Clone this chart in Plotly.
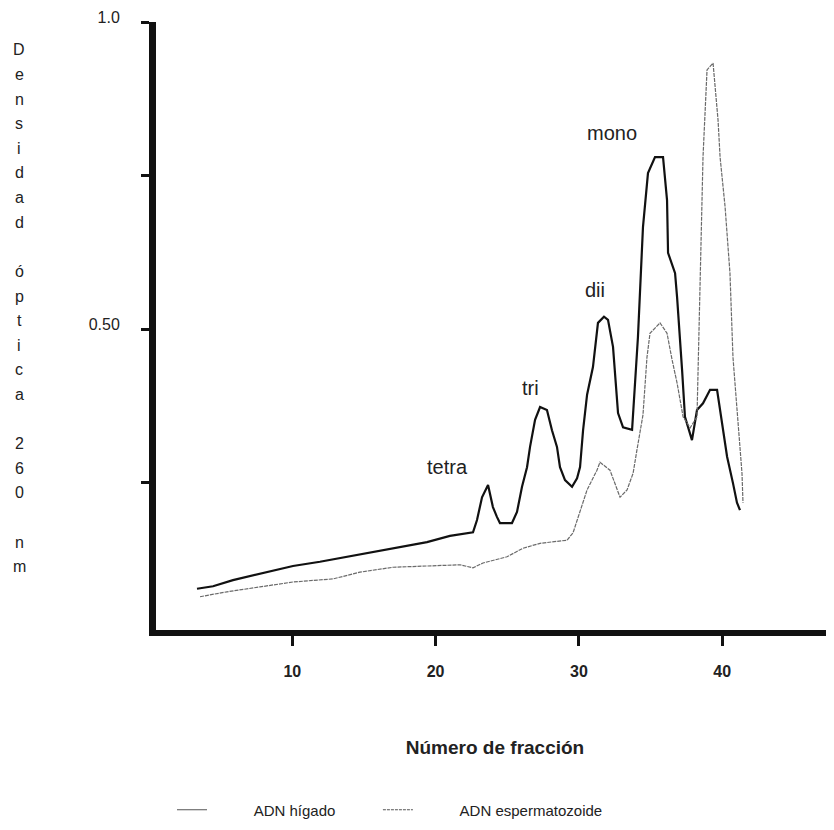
import plotly.graph_objects as go

# ---- data (fraction number vs optical density 260 nm) ----
higado_x = [3.35, 4.47, 5.86, 7.26, 8.65, 10.05, 11.93, 13.82, 15.63, 17.52, 19.40, 21.0,
            22.61, 22.89, 23.24, 23.66, 24.0, 24.28, 24.49, 25.33, 25.68, 26.03, 26.38, 26.59,
            26.94, 27.29, 27.77, 28.12, 28.47, 28.68, 29.03, 29.52, 29.87, 30.08, 30.29, 30.57,
            30.98, 31.33, 31.75, 32.03, 32.38, 32.73, 33.08, 33.71, 34.12, 34.47, 34.82, 35.31,
            35.87, 36.15, 36.22, 36.71, 36.85, 37.2, 37.4, 37.89, 38.24, 38.66, 39.15, 39.64,
            39.99, 40.34, 40.75, 41.03, 41.24]
higado_y = [0.077, 0.081, 0.091, 0.099, 0.107, 0.114, 0.121, 0.129, 0.137, 0.145, 0.153, 0.163,
            0.169, 0.189, 0.226, 0.246, 0.210, 0.194, 0.184, 0.184, 0.202, 0.243, 0.275, 0.308,
            0.352, 0.373, 0.368, 0.335, 0.308, 0.275, 0.254, 0.243, 0.257, 0.275, 0.335, 0.393,
            0.438, 0.510, 0.520, 0.515, 0.471, 0.363, 0.340, 0.336, 0.487, 0.666, 0.754, 0.780,
            0.780, 0.710, 0.624, 0.591, 0.552, 0.433, 0.357, 0.319, 0.368, 0.379, 0.401, 0.401,
            0.347, 0.292, 0.249, 0.217, 0.205]

esperma_x = [3.56, 5.44, 7.75, 10.05, 12.84, 14.72, 17.03, 19.40, 21.70, 22.61, 23.31, 24.98,
             26.1, 27.29, 29.17, 29.59, 29.87, 30.29, 30.57, 31.26, 31.47, 32.17, 32.52, 32.87,
             33.36, 33.78, 34.05, 34.47, 34.75, 34.96, 35.66, 36.15, 36.5, 36.85, 37.27, 37.76,
             38.24, 38.45, 38.66, 38.94, 39.36, 39.71, 39.85, 40.2, 40.54, 40.75, 41.03, 41.38,
             41.45]
esperma_y = [0.064, 0.072, 0.080, 0.088, 0.093, 0.104, 0.112, 0.114, 0.116, 0.111, 0.119, 0.129,
             0.143, 0.151, 0.156, 0.168, 0.189, 0.217, 0.238, 0.270, 0.283, 0.270, 0.249, 0.226,
             0.238, 0.265, 0.303, 0.360, 0.454, 0.493, 0.510, 0.493, 0.450, 0.412, 0.357, 0.339,
             0.357, 0.547, 0.780, 0.922, 0.933, 0.840, 0.780, 0.699, 0.591, 0.454, 0.373, 0.265,
             0.217]

peak_labels = ["tetra", "tri", "dii", "mono"]
peak_label_x = [20.8, 26.6, 31.1, 32.3]
peak_label_y = [0.275, 0.404, 0.563, 0.819]

x_tickvals = [10, 20, 30, 40]
x_ticktext = ["10", "20", "30", "40"]
y_tickvals = [0.25, 0.5, 0.75, 1.0]
y_ticktext = ["", "0.50", "", "1.0"]

y_title = "Densidad óptica 260 nm"
x_title = "Número de fracción"
series_names = ["ADN hígado", "ADN espermatozoide"]

FONT = "Liberation Sans, Arial, sans-serif"
OFF = 8                      # default page (body) margin of the html page
W, H = 834 - OFF, 830 - OFF
ML, MR, MT, MB = 148, 0, 14, 200
plot_w = W - ML - MR
plot_h = H - MT - MB
PL, PB = ML + OFF, H - MB + OFF          # plot left / bottom in page pixels

fig = go.Figure()
fig.add_trace(go.Scatter(x=higado_x, y=higado_y, mode="lines",
                         line=dict(color="#111111", width=2.2),
                         showlegend=False, hoverinfo="skip"))
fig.add_trace(go.Scatter(x=esperma_x, y=esperma_y, mode="lines",
                         line=dict(color="#6a6a6a", width=1.2, dash="4px,1px"),
                         showlegend=False, hoverinfo="skip"))
# legend entries (thin samples like the reference)
nb = "\u00a0"
fig.add_trace(go.Scatter(x=[None], y=[None], mode="lines",
                         name=nb * 10 + series_names[0] + nb * 9,
                         line=dict(color="#555555", width=1.2)))
fig.add_trace(go.Scatter(x=[None], y=[None], mode="lines",
                         name=nb * 10 + series_names[1],
                         line=dict(color="#555555", width=1.2, dash="3px,1px")))

for t, xx, yy in zip(peak_labels, peak_label_x, peak_label_y):
    fig.add_annotation(x=xx, y=yy, text=t, showarrow=False,
                       font=dict(family=FONT, size=20, color="#222222"))

# stacked vertical y-axis title, one character per line
chars = list(y_title)
y0_px, step = 50, 24.6
for i, ch in enumerate(chars):
    if ch == " ":
        continue
    py = y0_px + i * step
    fig.add_annotation(xref="paper", yref="paper",
                       x=(19 - PL) / plot_w, y=(PB - py) / plot_h,
                       text=ch, showarrow=False, xanchor="center", yanchor="middle",
                       font=dict(family=FONT, size=16, color="#222222"))

fig.update_layout(
    width=W, height=H,
    margin=dict(l=ML, r=MR, t=MT, b=MB),
    paper_bgcolor="white", plot_bgcolor="white",
    font=dict(family=FONT, color="#222222"),
    showlegend=True,
    legend=dict(orientation="h", x=(172 - PL) / plot_w, xanchor="left",
                y=(PB - 810) / plot_h, yanchor="middle",
                font=dict(family=FONT, size=15, color="#222222"),
                bgcolor="rgba(0,0,0,0)"),
)
fig.update_xaxes(range=[0.49, 47.8], showgrid=False, zeroline=False,
                 showline=True, linecolor="#111111", linewidth=6,
                 ticks="outside", ticklen=10, tickwidth=3, tickcolor="#111111",
                 tickvals=x_tickvals, ticktext=x_ticktext,
                 tickfont=dict(family=FONT, size=16, color="#222222", weight="bold"),
                 ticklabelstandoff=12,
                 title=dict(text="<b>" + x_title + "</b>", standoff=63,
                            font=dict(family=FONT, size=19, color="#222222")))
fig.update_yaxes(range=[0.0098, 1.0], showgrid=False, zeroline=False,
                 showline=True, linecolor="#111111", linewidth=7,
                 ticks="outside", ticklen=8, tickwidth=3, tickcolor="#111111",
                 tickvals=y_tickvals, ticktext=y_ticktext,
                 tickfont=dict(family=FONT, size=16, color="#222222"),
                 ticklabelstandoff=18, ticklabelshift=-5, ticklabeloverflow="allow")

fig.write_html("out.html")
